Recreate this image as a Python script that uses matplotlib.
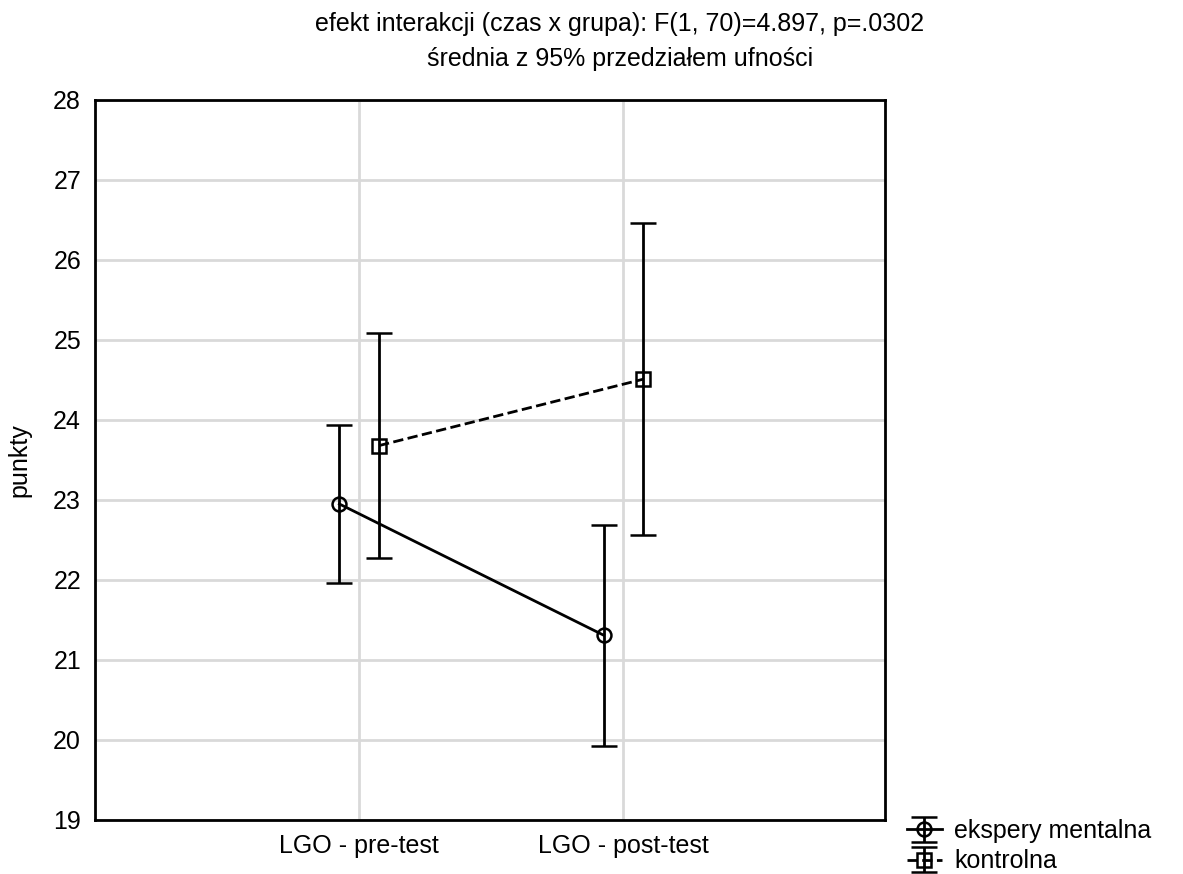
import numpy as np
import matplotlib
matplotlib.use("Agg")
import matplotlib.pyplot as plt

plt.rcParams['font.family'] = ['Liberation Sans', 'DejaVu Sans']

# Data
categories = ["LGO - pre-test", "LGO - post-test"]
groups = ["ekspery mentalna", "kontrolna"]
exp_mean = [22.95, 21.31]
exp_ci = [0.99, 1.38]
ctl_mean = [23.68, 24.51]
ctl_ci = [1.41, 1.95]

x = np.arange(len(categories))
off = 0.075
fs = 18

fig = plt.figure(figsize=(11.83, 8.74), dpi=100)
ax = fig.add_axes([0.0803, 0.0618, 0.6678, 0.8238])

ax.errorbar(x - off, exp_mean, yerr=exp_ci, color='black', lw=2, ls='-',
            marker='o', ms=10, mfc='none', mec='black', mew=1.8,
            capsize=9.5, capthick=2, elinewidth=2, label=groups[0], zorder=3)
ax.errorbar(x + off, ctl_mean, yerr=ctl_ci, color='black', lw=2, ls='--',
            marker='s', ms=10, mfc='none', mec='black', mew=1.8,
            capsize=9.5, capthick=2, elinewidth=2, label=groups[1], zorder=3)

ax.set_xlim(-1.0, 1.99)
ax.set_ylim(19, 28)
ax.set_xticks(x)
ax.set_xticklabels(categories)
ax.set_yticks(np.arange(19, 29, 1))
ax.tick_params(length=0, labelsize=fs, pad=10)
ax.grid(True, color='#d9d9d9', lw=2)
ax.set_axisbelow(True)
for s in ax.spines.values():
    s.set_linewidth(2)
ax.set_ylabel("punkty", fontsize=fs, labelpad=16)

fig.text(0.524, 0.972, "efekt interakcji (czas x grupa): F(1, 70)=4.897, p=.0302",
         ha='center', va='center', fontsize=fs)
fig.text(0.524, 0.933, "średnia z 95% przedziałem ufności",
         ha='center', va='center', fontsize=fs)

ax.legend(loc='lower left', bbox_to_anchor=(1.015, -0.088), frameon=False,
          fontsize=fs, handlelength=1.4, handletextpad=0.5, labelspacing=0.25,
          borderaxespad=0)

fig.savefig("out.png", dpi=100)
